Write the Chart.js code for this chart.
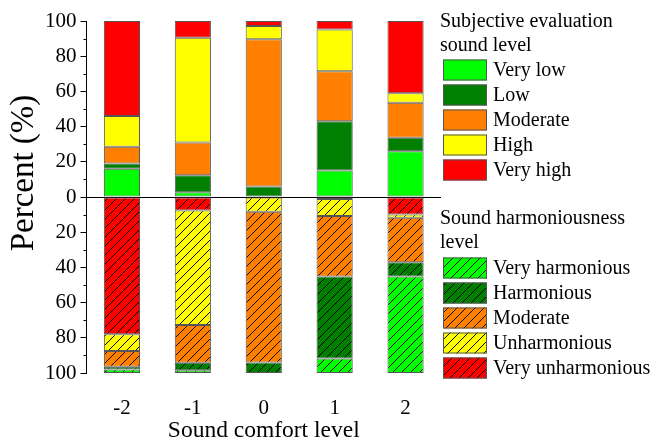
<!DOCTYPE html>
<html>
<head>
<meta charset="utf-8">
<script src="https://cdn.jsdelivr.net/npm/chart.js@4"></script>
<style>
  body { margin: 0; background: #fff; }
  canvas { display: block; }
</style>
</head>
<body>
<canvas id="chart" width="667" height="442"></canvas>
<script>
// categorieen op de x-as
const categories = ['-2', '-1', '0', '1', '2'];

// subjectieve beoordeling geluidsniveau (boven de nul)
const levelLabels = ['Very low', 'Low', 'Moderate', 'High', 'Very high'];
const veryLow  = [16.0, 2.7, 0.0, 15.0, 26.0];
const low      = [3.0, 9.7, 6.0, 28.0, 7.6];
const moderate = [9.5, 18.5, 83.6, 28.5, 20.0];
const high     = [17.5, 59.6, 7.6, 23.6, 5.3];
const veryHigh = [54.0, 9.5, 2.8, 4.9, 41.1];

// harmonie van het geluid (onder de nul, van nul naar beneden)
const harmLabels = ['Very harmonious', 'Harmonious', 'Moderate', 'Unharmonious', 'Very unharmonious'];
const veryHarmonious   = [2.0, 1.5, 0.0, 8.2, 54.9];
const harmonious       = [1.5, 4.3, 5.9, 46.7, 8.0];
const moderateHarm     = [9.0, 21.5, 85.7, 34.3, 25.3];
const unharmonious     = [9.5, 65.1, 8.4, 9.7, 1.9];
const veryUnharmonious = [78.0, 7.6, 0.0, 1.1, 9.9];

const yTicks = [-100, -80, -60, -40, -20, 0, 20, 40, 60, 80, 100];

const colors = ['#00ff00', '#007f00', '#ff8000', '#ffff00', '#ff0000'];
const fontName = '"Liberation Serif", "Times New Roman", serif';

// arceerpatroon met schuine lijnen
function hatch(color) {
    const s = 9;
    const c = document.createElement('canvas');
    c.width = s; c.height = s;
    const g = c.getContext('2d');
    g.fillStyle = color;
    g.fillRect(0, 0, s, s);
    g.strokeStyle = '#000';
    g.lineWidth = 1;
    g.beginPath();
    g.moveTo(0, s); g.lineTo(s, 0);
    g.moveTo(-1, 1); g.lineTo(1, -1);
    g.moveTo(s - 1, s + 1); g.lineTo(s + 1, s - 1);
    g.stroke();
    return g.createPattern(c, 'repeat');
}

const levelData = [veryLow, low, moderate, high, veryHigh];
const harmData = [veryHarmonious, harmonious, moderateHarm, unharmonious, veryUnharmonious];

const datasets = [];
levelData.forEach((d, i) => {
    datasets.push({
        label: levelLabels[i],
        data: d,
        backgroundColor: colors[i],
        group: 'level',
        legendIndex: i
    });
});
// van nul naar beneden: eerst 'very unharmonious'
for (let i = 4; i >= 0; i--) {
    datasets.push({
        label: harmLabels[i],
        data: harmData[i].map(v => -v),
        backgroundColor: hatch(colors[i]),
        group: 'harm',
        legendIndex: i
    });
}
datasets.forEach(ds => {
    ds.borderColor = '#555';
    ds.borderWidth = 1;
    ds.borderSkipped = false;
    ds.barPercentage = 0.51;
    ds.categoryPercentage = 1.0;
});

// kleine streepjes op de y-as, y-titel en eigen legenda
const extras = {
    id: 'extras',
    afterDraw(chart) {
        const ctx = chart.ctx;
        const y = chart.scales.y;
        ctx.save();
        ctx.strokeStyle = '#000';
        ctx.lineWidth = 1;
        for (let v = -90; v <= 90; v += 20) {
            const py = Math.round(y.getPixelForValue(v)) + 0.5;
            ctx.beginPath();
            ctx.moveTo(y.right - 3, py);
            ctx.lineTo(y.right, py);
            ctx.stroke();
        }

        // titel van de y-as (iets boven het midden, zoals in het origineel)
        ctx.save();
        ctx.translate(24, 173);
        ctx.rotate(-Math.PI / 2);
        ctx.font = '33px ' + fontName;
        ctx.fillStyle = '#000';
        ctx.textAlign = 'center';
        ctx.textBaseline = 'middle';
        ctx.fillText('Percent (%)', 0, 0);
        ctx.restore();

        // legenda
        const lx = 443;
        ctx.font = '20px ' + fontName;
        ctx.fillStyle = '#000';
        ctx.textBaseline = 'middle';
        ctx.textAlign = 'left';
        ctx.fillText('Subjective evaluation', 440, 22);
        ctx.fillText('sound level', 440, 46);
        ctx.fillText('Sound harmoniousness', 440, 219);
        ctx.fillText('level', 440, 243);
        chart.data.datasets.forEach(ds => {
            const top = ds.group === 'level' ? 70 : 268;
            const cy = top + ds.legendIndex * 25;
            ctx.fillStyle = ds.backgroundColor;
            ctx.fillRect(lx, cy - 10.5, 44, 21);
            ctx.strokeStyle = '#555';
            ctx.strokeRect(lx + 0.5, cy - 10, 43, 20);
            ctx.fillStyle = '#000';
            ctx.fillText(ds.label, 493, cy + 1);
        });
        ctx.restore();
    }
};

new Chart(document.getElementById('chart'), {
    type: 'bar',
    data: { labels: categories, datasets: datasets },
    plugins: [extras],
    options: {
        responsive: false,
        animation: false,
        devicePixelRatio: 1,
        layout: { padding: { top: 21, right: 226, left: 41, bottom: 0 } },
        plugins: {
            legend: { display: false },
            tooltip: { enabled: false }
        },
        scales: {
            x: {
                stacked: true,
                grid: { display: false, drawTicks: false },
                border: { display: false },
                ticks: { color: '#000', font: { family: fontName, size: 21, lineHeight: 1 }, padding: 25 },
                title: {
                    display: true,
                    text: 'Sound comfort level',
                    color: '#000',
                    font: { family: fontName, size: 23.5, lineHeight: 1 },
                    padding: { top: -24.5, bottom: -1 }
                }
            },
            y: {
                stacked: true,
                min: -100,
                max: 100,
                afterBuildTicks: axis => { axis.ticks = yTicks.map(v => ({ value: v })); },
                grid: {
                    color: c => (c.tick && c.tick.value === 0 ? '#000' : 'rgba(0,0,0,0)'),
                    tickColor: '#000',
                    tickLength: 6
                },
                border: { display: true, color: '#000', width: 1 },
                ticks: {
                    color: '#000',
                    font: { family: fontName, size: 21 },
                    padding: 4,
                    callback: v => Math.abs(v)
                },
                title: { display: false }
            }
        }
    }
});
</script>
</body>
</html>
